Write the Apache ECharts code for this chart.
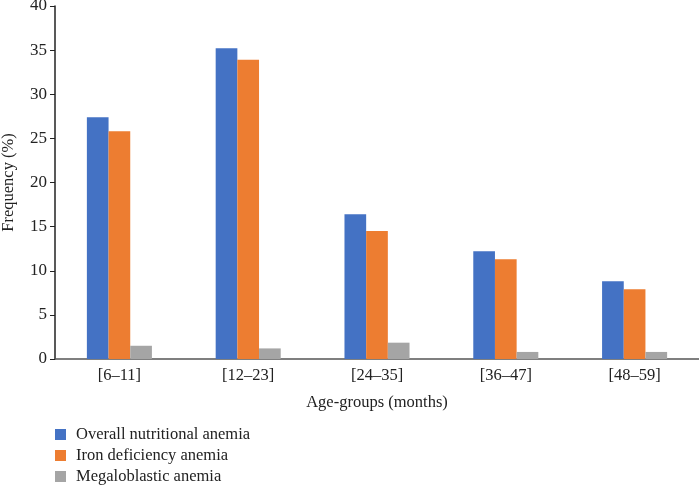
<!DOCTYPE html>
<html><head><meta charset="utf-8">
<script src="https://cdn.jsdelivr.net/npm/echarts@6/dist/echarts.min.js"></script>
<style>html,body{margin:0;padding:0;background:#fff}#c{width:699px;height:485px}</style>
</head><body><div id="c"></div>
<script>
var categories = ['[6\u201311]', '[12\u201323]', '[24\u201335]', '[36\u201347]', '[48\u201359]'];
var overall = [27.4, 35.2, 16.4, 12.2, 8.8];
var iron = [25.8, 33.9, 14.5, 11.3, 7.9];
var megalo = [1.5, 1.2, 1.85, 0.8, 0.8];
var seriesNames = ['Overall nutritional anemia', 'Iron deficiency anemia', 'Megaloblastic anemia'];
var yTicks = {min: 0, max: 40, interval: 5};

var font = 'Liberation Serif';
var chart = echarts.init(document.getElementById('c'));
chart.setOption({
  animation: false,
  textStyle: {fontFamily: font},
  grid: {left: 55, right: 0, top: 6, bottom: 126, containLabel: false, outerBoundsMode: 'none'},
  legend: {
    orient: 'vertical', left: 50, top: 421, height: 70, itemGap: 4,
    itemWidth: 11, itemHeight: 11, icon: 'rect',
    itemStyle: {borderWidth: 0},
    textStyle: {fontFamily: font, fontSize: 16.5, lineHeight: 17, color: '#222', padding: [0, 0, 0, 5]},
    data: seriesNames
  },
  xAxis: {
    type: 'category', data: categories,
    name: 'Age-groups (months)', nameLocation: 'middle', nameGap: 35,
    nameTextStyle: {fontFamily: font, fontSize: 16.5, color: '#222'},
    axisLine: {lineStyle: {color: '#555', width: 1.5}},
    axisTick: {show: false},
    axisLabel: {fontFamily: font, fontSize: 16.5, color: '#222', margin: 8}
  },
  yAxis: {
    type: 'value', min: yTicks.min, max: yTicks.max, interval: yTicks.interval,
    name: 'Frequency (%)', nameLocation: 'middle', nameGap: 38, nameRotate: 90,
    nameTextStyle: {fontFamily: font, fontSize: 16.5, color: '#222'},
    axisLine: {show: true, lineStyle: {color: '#222', width: 1.5}},
    axisTick: {show: true, length: 5, lineStyle: {color: '#222'}},
    splitLine: {show: false},
    axisLabel: {fontFamily: font, fontSize: 17, color: '#222', margin: 8}
  },
  series: [
    {name: seriesNames[0], type: 'bar', data: overall, barGap: '0%', barCategoryGap: '49.5%',
     itemStyle: {color: '#4472C4'}},
    {name: seriesNames[1], type: 'bar', data: iron, barGap: '0%', barCategoryGap: '49.5%',
     itemStyle: {color: '#ED7D31'}},
    {name: seriesNames[2], type: 'bar', data: megalo, barGap: '0%', barCategoryGap: '49.5%',
     itemStyle: {color: '#A5A5A5'}}
  ]
});
</script></body></html>
